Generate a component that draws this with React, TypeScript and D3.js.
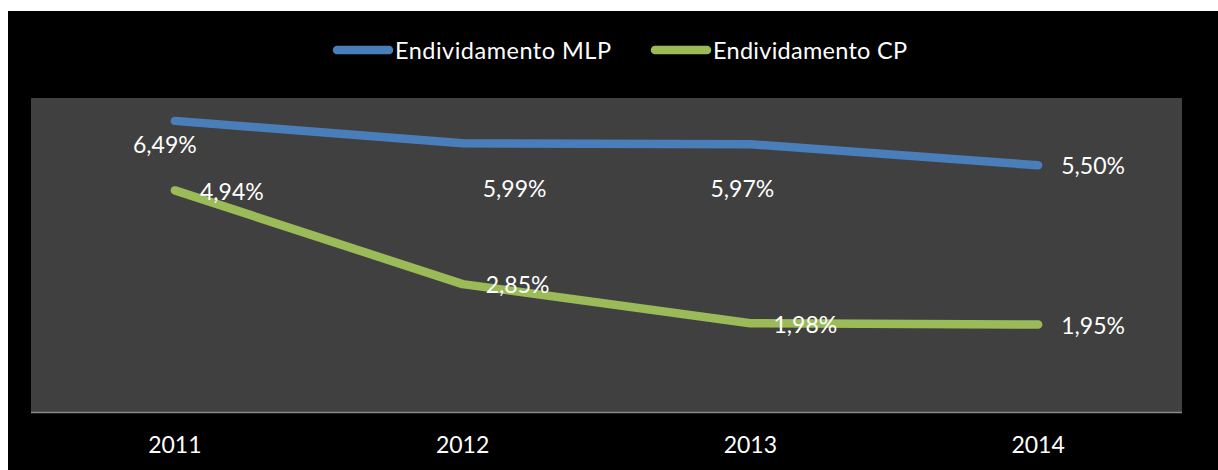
import React from "react";
import * as d3 from "d3";

const years = ["2011", "2012", "2013", "2014"];
const mlp = [6.49, 5.99, 5.97, 5.5];
const cp = [4.94, 2.85, 1.98, 1.95];
const seriesNames = ["Endividamento MLP", "Endividamento CP"];
const colors = ["#4a7ebb", "#9bbb59"];
// label offsets relative to the point (dx for center, dy for baseline)
const mlpLabelOffsets = [[-10, 32], [52, 54], [-8, 53], [55, 9]];
const cpLabelOffsets = [[57, 10], [55, 9], [55, 10], [55, 9]];

const W = 1218, H = 470;
const plot = { left: 31, right: 1182, top: 98, bottom: 412 };
const FONT = "Lato, 'Open Sans', sans-serif";

const fmt = (v: number) => v.toFixed(2).replace(".", ",") + "%";

export default function App() {
  const x = d3.scaleBand<string>().domain(years).range([plot.left, plot.right]);
  const y = d3.scaleLinear().domain([0, 7]).range([plot.bottom, plot.top]);
  const cx = (i: number) => (x(years[i]) as number) + x.bandwidth() / 2;
  const line = d3
    .line<number>()
    .x((_, i) => cx(i))
    .y((d) => y(d));

  const series = [
    { values: mlp, offs: mlpLabelOffsets },
    { values: cp, offs: cpLabelOffsets },
  ];

  const legendItems = [
    { x0: 333, x1: 393, tx: 395, len: 216 },
    { x0: 651, x1: 711, tx: 713, len: 194 },
  ];

  return (
    <svg
      width={W}
      height={H}
      style={{ position: "absolute", left: 0, top: 0, display: "block" }}
    >
      <rect x={0} y={0} width={W} height={H} fill="#ffffff" />
      <rect x={8} y={11} width={W - 8} height={H - 11} fill="#000000" />
      <rect
        x={plot.left}
        y={plot.top}
        width={plot.right - plot.left}
        height={plot.bottom - plot.top}
        fill="#404040"
      />
      <line
        x1={plot.left}
        x2={plot.right}
        y1={plot.bottom + 0.5}
        y2={plot.bottom + 0.5}
        stroke="#8a8a8a"
        strokeWidth={1.5}
      />
      {years.map((yr, i) => (
        <text
          key={yr}
          x={cx(i)}
          y={453}
          textAnchor="middle"
          fill="#ffffff"
          fontFamily={FONT}
          fontSize={23}
        >
          {yr}
        </text>
      ))}
      {series.map((s, si) => (
        <path
          key={si}
          d={line(s.values) || ""}
          fill="none"
          stroke={colors[si]}
          strokeWidth={8.5}
          strokeLinecap="round"
          strokeLinejoin="round"
        />
      ))}
      {series.map((s, si) =>
        s.values.map((v, i) => (
          <text
            key={`${si}-${i}`}
            x={cx(i) + s.offs[i][0]}
            y={y(v) + s.offs[i][1]}
            textAnchor="middle"
            fill="#ffffff"
            fontFamily={FONT}
            fontSize={23}
          >
            {fmt(v)}
          </text>
        ))
      )}
      {legendItems.map((l, i) => (
        <g key={i}>
          <line
            x1={l.x0 + 4}
            x2={l.x1 - 4}
            y1={50}
            y2={50}
            stroke={colors[i]}
            strokeWidth={8.5}
            strokeLinecap="round"
          />
          <text
            x={l.tx}
            y={59}
            fill="#ffffff"
            fontFamily={FONT}
            fontSize={23.5}
            textLength={l.len}
            lengthAdjust="spacing"
          >
            {seriesNames[i]}
          </text>
        </g>
      ))}
    </svg>
  );
}
